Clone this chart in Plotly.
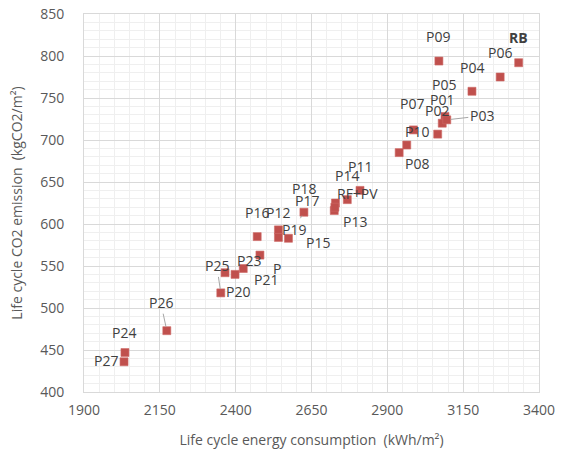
import plotly.graph_objects as go

# ---- data ----
names = ["RB", "P01", "P02", "P03", "P04", "P05", "P06", "P07", "P08", "P09",
         "P10", "P11", "P12", "P13", "P14", "P15", "P16", "P17", "P18", "P19",
         "P20", "P21", "P22", "P23", "P24", "P25", "P26", "P27", "RF+PV"]
energy = [3333, 3090, 3081, 3096, 3179, 2964, 3272, 2986, 2939, 3070,
          3066, 2810, 2541, 2725, 2729, 2574, 2471, 2541, 2727, 2625,
          2365, 2398, 2480, 2425, 2035, 2351, 2173, 2032, 2768]
co2 = [792, 728, 720, 724, 758, 694, 775, 712, 685, 794,
       707, 640, 593, 616, 625, 583, 585, 584, 620, 614,
       542, 540, 563, 547, 447, 518, 473, 436, 629]
shown_text = {"P22": "P"}

x_ticks = [1900, 2150, 2400, 2650, 2900, 3150, 3400]
y_ticks = [400, 450, 500, 550, 600, 650, 700, 750, 800, 850]

# ---- label placement (pixel offsets from the marker) ----
label_offset = {
    "RB": (0, -25), "P06": (0, -25), "P04": (0, -24), "P09": (-1, -25),
    "P05": (37, -61), "P01": (-3, -17), "P02": (-5, -13), "P07": (-1, -26),
    "P10": (-21, -3), "P08": (18, 11), "P11": (0, -24), "RF+PV": (10, -6),
    "P14": (12, -28), "P18": (-31, -19), "P13": (21, 11), "P17": (29, -37),
    "P12": (0, -17), "P16": (0, -24), "P15": (30, 4), "P22": (17, 13),
    "P23": (6, -8), "P21": (31, 5), "P20": (13, 19), "P24": (-1, -20),
    "P27": (-18, -1),
}
leader = {"P03": (35, -4), "P19": (-10, 17), "P25": (-4, -27), "P26": (-6, -28)}

FONT = "Open Sans"
TXT = "#404040"

fig = go.Figure()
fig.add_trace(go.Scatter(
    x=energy, y=co2, mode="markers",
    marker=dict(symbol="square", size=8, color="#C0504D",
                line=dict(color="#CF6A67", width=0.6)),
    hoverinfo="text", text=names, showlegend=False,
))

annotations = []
for n, xv, yv in zip(names, energy, co2):
    t = shown_text.get(n, n)
    if n == "RB":
        t = "<b>RB</b>"
    if n in leader:
        ax, ay = leader[n]
        annotations.append(dict(x=xv, y=yv, xref="x", yref="y", text=t,
                                showarrow=True, ax=ax, ay=ay, arrowhead=0,
                                arrowwidth=1, arrowcolor="#A6A6A6", standoff=4,
                                font=dict(family=FONT, size=14, color=TXT)))
    else:
        dx, dy = label_offset.get(n, (0, -20))
        annotations.append(dict(x=xv, y=yv, xref="x", yref="y", text=t,
                                showarrow=False, xshift=dx, yshift=-dy,
                                font=dict(family=FONT, size=14, color=TXT)))

fig.update_layout(
    width=562, height=456,
    margin=dict(l=84, r=23, t=14, b=64),
    paper_bgcolor="white", plot_bgcolor="white",
    font=dict(family=FONT, size=14, color="#595959"),
    annotations=annotations,
    xaxis=dict(
        range=[1900, 3400], tickvals=x_ticks, ticktext=[str(v) for v in x_ticks],
        automargin=False,
        showgrid=True, gridcolor="#D9D9D9", gridwidth=1,
        minor=dict(dtick=50, tick0=1900, showgrid=True, gridcolor="#EFEFEF", gridwidth=1),
        showline=True, linecolor="#D9D9D9", mirror=True, zeroline=False,
        ticks="outside", ticklen=5, tickcolor="rgba(0,0,0,0)",
        tickfont=dict(family=FONT, size=14, color="#595959"),
        title=dict(text="Life cycle energy consumption  (kWh/m²)", standoff=17,
                   font=dict(family=FONT, size=14, color="#595959")),
    ),
    yaxis=dict(
        range=[400, 850], tickvals=y_ticks, ticktext=[str(v) for v in y_ticks],
        automargin=False,
        showgrid=True, gridcolor="#D9D9D9", gridwidth=1,
        minor=dict(dtick=10, tick0=400, showgrid=True, gridcolor="#EFEFEF", gridwidth=1),
        showline=True, linecolor="#D9D9D9", mirror=True, zeroline=False,
        ticks="outside", ticklen=16, tickcolor="rgba(0,0,0,0)",
        tickfont=dict(family=FONT, size=14, color="#595959"),
        title=dict(text="Life cycle CO2 emission  (kgCO2/m²)", standoff=14,
                   font=dict(family=FONT, size=14, color="#595959")),
    ),
)

fig.write_html("out.html", config={"displayModeBar": False},
               post_script="document.body.style.margin='0px';")
